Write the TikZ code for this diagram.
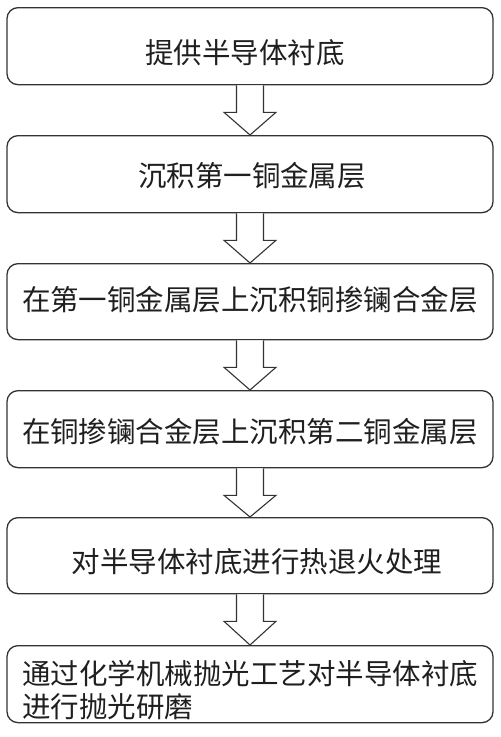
\documentclass[tikz,border=0pt]{standalone}
\usepackage{fontspec}
\newfontfamily\cjk{Noto Sans CJK SC}
\usetikzlibrary{calc}
\begin{document}
\begin{tikzpicture}[x=1pt,y=-1pt,
  stepbox/.style={draw=black!80, line width=1.3pt, rounded corners=11pt, minimum width=486pt, minimum height=77pt, inner sep=0pt, anchor=north},
  steptext/.style={font=\cjk\fontsize{28.5pt}{33.5pt}\selectfont, text=black!88, inner sep=0pt},
  blockarrow/.style={draw=black!80, line width=1.1pt, fill=white, line join=miter}]
\useasboundingbox (0,0) rectangle (501,737);
\node[stepbox] (b1) at (250,7) {};
\node[stepbox] (b2) at (250,135) {};
\node[stepbox, minimum height=76pt] (b3) at (250,263) {};
\node[stepbox] (b4) at (250,390) {};
\node[stepbox, minimum height=76pt] (b5) at (250,517) {};
\node[stepbox] (b6) at (250,645) {};
\node[steptext] (t1) at (245,53) {提供半导体衬底};
\node[steptext] (t2) at (252,176) {沉积第一铜金属层};
\node[steptext] (t3) at (250,300) {在第一铜金属层上沉积铜掺镧合金层};
\node[steptext] (t4) at (250,432) {在铜掺镧合金层上沉积第二铜金属层};
\node[steptext] (t5) at (257,562) {对半导体衬底进行热退火处理};
\node[steptext, anchor=west, align=left] (t6) at (22,690) {通过化学机械抛光工艺对半导体衬底\\进行抛光研磨};
\foreach \a/\b in {b1/b2,b2/b3,b3/b4,b4/b5,b5/b6}{
  \draw[blockarrow] ($(\a.south)+(-13.5,0)$) -- ($(\a.south)+(-13.5,27)$) -- ($(\a.south)+(-26,27)$) -- (\b.north) -- ($(\a.south)+(26,27)$) -- ($(\a.south)+(13.5,27)$) -- ($(\a.south)+(13.5,0)$);
}
\end{tikzpicture}
\end{document}
